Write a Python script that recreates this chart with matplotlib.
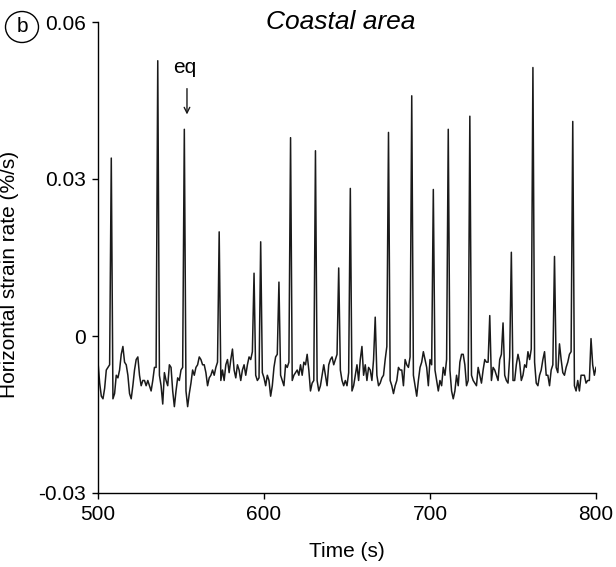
import numpy as np
import matplotlib.pyplot as plt
from matplotlib.patches import Ellipse

plt.rcParams['font.family'] = ['Liberation Sans', 'DejaVu Sans']

# horizontal strain rate (%/s), one sample per second from t = 500 s
strain = [
    -0.005, -0.009, -0.0115, -0.012, -0.010, -0.0065, -0.006, -0.0055, 0.034, -0.012,
    -0.011, -0.0075, -0.008, -0.0065, -0.0035, -0.002, -0.005, -0.0055, -0.0075, -0.011,
    -0.012, -0.0095, -0.0065, -0.0045, -0.004, -0.0075, -0.0095, -0.0085, -0.0085, -0.0095,
    -0.0085, -0.0095, -0.0105, -0.0085, -0.006, -0.006, 0.0526, -0.0075, -0.0095, -0.013,
    -0.007, -0.0085, -0.0095, -0.0055, -0.006, -0.0105, -0.0135, -0.0105, -0.008, -0.0085,
    -0.0065, -0.006, 0.0395, -0.0105, -0.0135, -0.011, -0.009, -0.0065, -0.0075, -0.006,
    -0.0055, -0.004, -0.0045, -0.0055, -0.0055, -0.007, -0.0095, -0.008, -0.0075, -0.0065,
    -0.0075, -0.006, -0.005, 0.0199, -0.0085, -0.0065, -0.0085, -0.0055, -0.0045, -0.007,
    -0.0045, -0.0025, -0.0065, -0.008, -0.0055, -0.0065, -0.0085, -0.0065, -0.0055, -0.0075,
    -0.0055, -0.004, -0.0045, -0.003, 0.012, -0.0075, -0.0085, -0.008, 0.018, -0.007,
    -0.008, -0.0095, -0.0075, -0.0085, -0.0115, -0.0095, -0.006, -0.004, -0.0035, 0.0103,
    -0.0075, -0.0085, -0.0095, -0.0055, -0.006, -0.005, 0.0379, -0.0085, -0.0075, -0.007,
    -0.0065, -0.0075, -0.0055, -0.0075, -0.005, -0.0055, -0.0035, -0.0065, -0.0105, -0.009,
    -0.0085, 0.0354, -0.0085, -0.0105, -0.0095, -0.0075, -0.0055, -0.0075, -0.0095, -0.0055,
    -0.0045, -0.004, -0.0055, -0.0045, -0.0035, 0.013, -0.0065, -0.0085, -0.0095, -0.0085,
    -0.0095, -0.007, 0.0282, -0.0105, -0.0095, -0.0075, -0.0055, -0.0085, -0.0045, -0.002,
    -0.0075, -0.0055, -0.0085, -0.006, -0.0065, -0.0085, -0.0045, 0.0036, -0.0075, -0.0095,
    -0.009, -0.008, -0.0075, -0.0045, -0.002, 0.0389, -0.0085, -0.0095, -0.011, -0.0095,
    -0.0085, -0.006, -0.0065, -0.0065, -0.0095, -0.0045, -0.0055, -0.006, -0.004, 0.0459,
    -0.0075, -0.0095, -0.0115, -0.0085, -0.006, -0.005, -0.003, -0.0045, -0.006, -0.0095,
    -0.0045, -0.0055, 0.028, -0.0065, -0.0085, -0.0105, -0.0085, -0.0095, -0.006, -0.0075,
    -0.0045, 0.0395, -0.0065, -0.0105, -0.012, -0.0105, -0.0075, -0.0095, -0.005, -0.0035,
    -0.0035, -0.0055, -0.0095, -0.0085, 0.042, -0.0075, -0.0085, -0.009, -0.0095, -0.006,
    -0.0075, -0.009, -0.0065, -0.0045, -0.005, -0.005, 0.0039, -0.0085, -0.006, -0.0065,
    -0.0075, -0.0085, -0.0045, -0.0035, 0.0025, -0.0075, -0.0085, -0.009, -0.004, 0.016,
    -0.0085, -0.0085, -0.0055, -0.0035, -0.005, -0.0085, -0.0075, -0.0055, -0.006, -0.003,
    -0.0045, -0.0025, 0.0513, -0.005, -0.009, -0.0095, -0.0075, -0.0065, -0.0045, -0.003,
    -0.0075, -0.0075, -0.0095, -0.0065, -0.0055, 0.0152, -0.006, -0.007, -0.0015, -0.0045,
    -0.007, -0.0075, -0.006, -0.005, -0.0035, -0.003, 0.041, -0.0095, -0.0105, -0.0085,
    -0.0105, -0.0075, -0.0075, -0.0075, -0.009, -0.0085, -0.0085, -0.0005, -0.0055, -0.0075,
    -0.006,
]
time = np.arange(500, 500 + len(strain))

x_ticks = [500, 600, 700, 800]
y_ticks = [-0.03, 0, 0.03, 0.06]
y_ticklabels = ['-0.03', '0', '0.03', '0.06']

eq_time = 553.6

fig = plt.figure(figsize=(6.16, 5.67), dpi=100)
ax = fig.add_axes([98 / 616, 74 / 567, 498 / 616, 471 / 567])

ax.plot(time, strain, color='#1a1a1a', lw=1.1)

ax.set_xlim(500, 800)
ax.set_ylim(-0.03, 0.06)
ax.set_xticks(x_ticks)
ax.set_yticks(y_ticks)
ax.set_yticklabels(y_ticklabels)
ax.tick_params(direction='out', length=4, width=1, pad=5, labelsize=15)

for side in ['top', 'right']:
    ax.spines[side].set_visible(False)
for side in ['left', 'bottom']:
    ax.spines[side].set_linewidth(1)

ax.set_xlabel('Time (s)', fontsize=15)
ax.set_ylabel('Horizontal strain rate (%/s)', fontsize=15)
ax.xaxis.set_label_coords(0.5, -0.105)
ax.yaxis.set_label_coords(-0.159, 0.463)

ax.text(0.488, 1.0, 'Coastal area', transform=ax.transAxes, style='italic',
        fontsize=19, ha='center', va='center')

# earthquake marker
ax.text(eq_time - 1.5, 0.0495, 'eq', fontsize=15, ha='center', va='bottom')
ax.annotate('', xy=(eq_time, 0.0418), xytext=(eq_time, 0.0478),
            arrowprops=dict(arrowstyle='->', lw=1, color='#1a1a1a'))

# panel label
fig.add_artist(Ellipse((22 / 616, 1 - 27 / 567), 33 / 616, 31 / 567,
                       transform=fig.transFigure, fill=False, lw=1))
fig.text(22 / 616, 1 - 27 / 567, 'b', fontsize=15, ha='center', va='center')

fig.savefig('out.png', dpi=100)
